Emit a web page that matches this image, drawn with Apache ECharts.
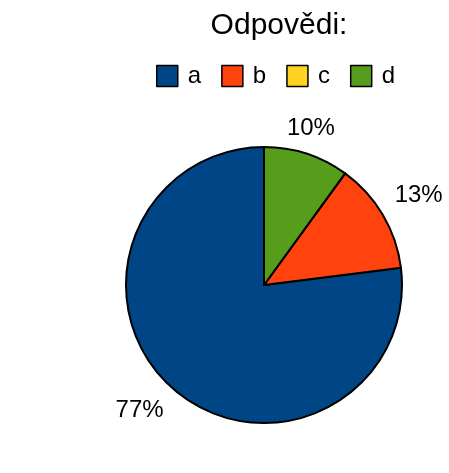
<!DOCTYPE html>
<html><head><meta charset="utf-8">
<script src="https://cdn.jsdelivr.net/npm/echarts@6/dist/echarts.min.js"></script>
<style>html,body{margin:0;padding:0;background:#fff}#c{width:449px;height:473px}</style>
</head><body><div id="c"></div>
<script>
const titleText = "Odpovědi:";
const categories = ["a", "b", "c", "d"];
const values = [77, 13, 0, 10];
const colors = ["#004586", "#ff420e", "#ffd320", "#579d1c"];

const chart = echarts.init(document.getElementById('c'));
const font = "Liberation Sans, Arial, sans-serif";
const CX = 264, CY = 285, R = 138, LABEL_R = 1.1;
const total = values.reduce((s, v) => s + v, 0);
// mid angles (radians), counter-clockwise starting at 12 o'clock
const midAngles = [];
let acc = 0;
values.forEach(v => {
  midAngles.push(Math.PI / 2 + (acc + v / 2) / total * 2 * Math.PI);
  acc += v;
});
const H_ALIGN = ['left', 'left', 'center', 'right', 'right', 'right', 'center', 'left'];
const V_ALIGN = ['middle', 'bottom', 'bottom', 'bottom', 'middle', 'top', 'top', 'top'];

chart.setOption({
  animation: false,
  color: colors,
  title: { text: titleText, left: 274, textAlign: 'center', top: 6, textStyle: { fontFamily: font, fontSize: 30, fontWeight: 'normal', color: '#000' } },
  legend: {
    data: categories, top: 64, left: 156, itemWidth: 21, itemHeight: 21, itemGap: 20,
    icon: 'rect', padding: 0,
    itemStyle: { borderColor: '#000', borderWidth: 1.5 },
    textStyle: { fontFamily: font, fontSize: 24, color: '#000', padding: [8, 0, 0, 5] }
  },
  series: [{
    type: 'pie', center: [CX, CY], radius: R,
    startAngle: 90, clockwise: false,
    data: categories.map((c, i) => ({ name: c, value: values[i] })),
    itemStyle: { borderColor: '#000', borderWidth: 2 },
    label: {
      show: true, position: 'outside', fontFamily: font, fontSize: 24, color: '#000', overflow: 'none',
      formatter: p => p.value === 0 ? '' : Math.round(p.percent) + '%'
    },
    labelLine: { show: false },
    labelLayout: function (params) {
      const a = midAngles[params.dataIndex];
      const d = R * LABEL_R;
      const oct = ((Math.round(a / (Math.PI / 4)) % 8) + 8) % 8;
      return { x: CX + Math.cos(a) * d, y: CY - Math.sin(a) * d, align: H_ALIGN[oct], verticalAlign: V_ALIGN[oct] };
    },
    emphasis: { disabled: true }
  }]
});
</script></body></html>
